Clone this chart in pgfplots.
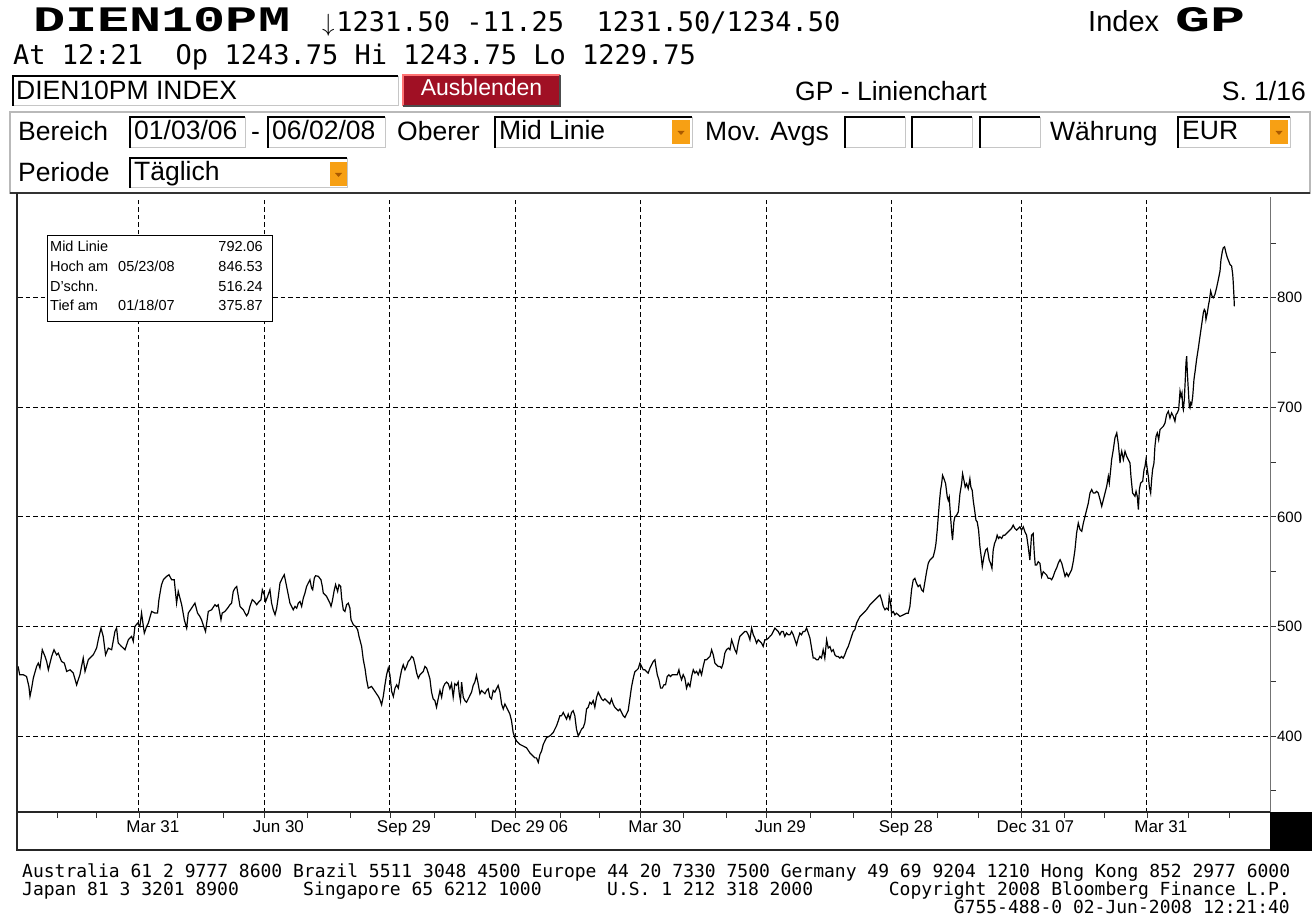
\documentclass[border=0pt]{standalone}
\usepackage{pgfplots}
\pgfplotsset{compat=1.18}
\usepackage{fontspec}
\setmainfont{Liberation Sans}
\newfontfamily\monof{DejaVu Sans Mono}
\newfontfamily\bbgf{Liberation Mono}
\definecolor{ddorange}{RGB}{247,160,20}
\definecolor{ddtri}{RGB}{170,90,0}
\definecolor{btnred}{RGB}{160,16,36}
\newcommand\uif{\fontsize{26.5}{30}\selectfont}
\newcommand\inbox[4]{\fill[white] (#1,#2) rectangle (#3,#4); \draw[gray!45,line width=1pt] (#1,#4) -- (#3,#4) -- (#3,#2); \draw[black,line width=2pt] (#1,#4) -- (#1,#2) -- (#3,#2);}
\newcommand\dd[4]{\fill[ddorange] (#1,#2) rectangle (#3,#4); \fill[ddtri] ({(#1+#3)/2-3.5},{(#2+#4)/2-1}) -- ({(#1+#3)/2+3.5},{(#2+#4)/2-1}) -- ({(#1+#3)/2},{(#2+#4)/2+3}) -- cycle;}
\begin{document}
\begin{tikzpicture}
\path[use as bounding box] (0,0) rectangle (1312pt,-917pt);
\begin{axis}[
  at={(18pt,-812pt)}, anchor=south west,
  width=1252pt, height=615pt, scale only axis,
  xmin=1.3, xmax=909.2, ymin=330.6, ymax=892,
  axis x line*=bottom, axis y line*=right,
  x axis line style={line width=1.8pt, black!85, -},
  y axis line style={line width=0.8pt, black!55, -},
  xtick={89,180,271,362,453,544,635,729,820},
  xticklabels={Mar 31,Jun 30,Sep 29,Dec 29 06,Mar 30,Jun 29,Sep 28,Dec 31 07,Mar 31},
  minor xtick={30,58,117,150,211,242,303,333,395,423,484,515,576,607,668,698,760,789,850,880},
  ytick={400,500,600,700,800},
  minor ytick={350,450,550,650,750,850},
  tick align=outside,
  major tick length=6pt, minor tick length=6pt,
  every tick/.style={black!80, line width=0.8pt},
  xmajorgrids, ymajorgrids,
  major grid style={black, line width=0.9pt, dash pattern=on 4.5pt off 3pt},
  xticklabel style={font=\fontsize{17}{17}\selectfont, anchor=north, xshift=14pt, inner sep=2pt},
  yticklabel style={font=\fontsize{15}{15}\selectfont, anchor=west, inner sep=1pt},
  /pgf/number format/assume math mode=true,
]
\addplot[black, line width=1.2pt] coordinates {
(1.4,463.5) (2.5,455.9) (5.1,455.9) (7.5,454.3) (9.2,445.2) (10.0,436.1) (11.2,443.7) (12.4,452.8) (14.8,463.5) (16.0,466.5)
(17.2,462.0) (18.9,478.7) (20.9,472.6) (22.1,468.0) (23.3,460.4) (25.7,472.6) (27.4,478.7) (29.3,474.1) (30.5,475.6) (32.9,468.0)
(34.9,466.5) (36.6,458.9) (39.0,460.4) (41.4,457.4) (43.8,446.7) (46.2,455.9) (48.6,471.1) (49.9,458.9) (52.3,469.6) (53.5,471.1)
(55.9,474.1) (58.3,480.2) (59.5,487.8) (61.5,498.5) (63.1,490.9) (64.8,474.1) (66.8,480.2) (69.2,478.7) (71.6,495.4) (72.8,498.5)
(74.0,484.8) (76.4,481.7) (78.9,478.7) (81.3,487.8) (83.7,490.9) (84.9,486.3) (86.1,500.0) (88.0,503.0) (89.7,500.0) (90.9,512.2)
(92.9,493.9) (94.6,500.0) (95.8,503.0) (98.2,513.7) (100.6,512.2) (102.5,512.2) (103.5,524.4) (104.7,533.5) (105.4,538.1) (106.7,542.6)
(109.1,545.7) (110.8,547.2) (112.7,542.6) (114.6,542.6) (116.3,521.3) (117.5,532.0) (120.0,519.8) (121.9,506.1) (123.6,498.5) (124.8,512.2)
(127.2,516.7) (129.6,521.3) (131.5,512.2) (133.2,509.1) (134.4,506.1) (135.6,501.5) (137.3,495.4) (139.3,513.7) (141.7,515.2) (144.1,519.8)
(145.3,518.3) (146.5,519.8) (148.5,506.1) (149.4,512.2)
(151.4,513.7) (153.3,516.7) (155.0,519.8) (156.2,521.3) (157.4,532.0) (158.7,535.0) (159.9,536.5) (161.1,527.4) (162.3,518.3) (163.5,516.7)
(164.7,515.2) (165.9,512.2) (167.1,509.7) (168.3,512.2) (169.5,518.3) (171.2,524.4) (172.7,522.8) (174.4,519.8) (175.6,521.9) (177.5,524.4)
(178.5,533.5) (179.9,528.9) (180.9,522.8) (182.3,527.4) (184.0,533.5) (185.2,521.3) (186.4,515.2) (187.7,510.7) (188.9,516.7) (190.1,527.4)
(191.3,539.6) (193.0,544.1) (194.4,547.2) (196.1,536.5) (197.3,528.9) (198.5,521.3) (199.7,518.3) (200.9,515.2) (202.2,518.3) (203.4,516.7)
(204.6,521.3) (205.8,522.8) (207.0,518.3) (208.2,525.9) (209.4,530.4) (210.6,536.5) (211.8,539.6) (213.0,542.6) (214.2,535.0) (215.0,533.5)
(216.2,544.1) (217.1,546.3) (219.1,545.7) (221.0,542.6) (222.0,536.5) (222.7,530.4) (223.9,528.9) (225.1,527.4) (226.3,524.4) (227.5,521.3)
(228.3,518.3) (229.2,522.8) (230.7,533.5) (231.6,538.1) (233.1,532.0) (234.1,538.1) (235.3,536.5) (236.0,525.9) (237.2,515.2) (238.4,513.7)
(239.6,519.8) (240.8,521.3) (242.0,516.7) (242.8,506.1) (244.5,501.5) (246.1,500.0) (247.6,497.0) (248.6,490.9) (250.5,481.7) (251.7,469.6)
(252.9,462.0) (254.1,451.3) (255.3,443.7) (257.7,445.2) (260.2,440.6) (262.6,436.1) (263.8,433.0) (265.0,428.5) (266.2,436.1) (267.4,446.7)
(268.6,455.9) (269.8,462.0) (271.0,455.9) (272.3,440.6) (273.5,436.1) (274.7,443.7) (275.9,446.7) (277.1,443.7) (278.3,452.8) (279.5,460.4)
(280.7,465.0) (281.9,460.4) (283.1,463.5) (284.3,468.0) (285.5,469.6) (286.8,472.6) (288.0,471.1) (289.2,465.0) (290.4,457.4) (291.6,452.8)
(292.8,455.9) (294.0,457.4) (295.2,458.9) (296.4,463.5) (297.6,462.0) (298.8,457.4)
(300.0,452.3) (301.2,440.0) (302.4,433.8) (303.6,432.3) (304.8,426.2) (306.0,433.8) (307.3,441.5) (308.5,435.4) (309.7,444.6) (310.9,447.7)
(312.1,449.2) (313.3,447.7) (314.5,443.1) (315.7,447.7) (316.9,435.4) (318.1,447.7) (319.3,446.2) (320.5,449.2) (321.3,438.5) (322.2,432.3)
(323.0,449.2) (324.2,435.4) (325.4,432.3) (326.6,430.8) (327.8,433.8) (329.0,436.9) (330.2,440.0) (331.4,446.2) (332.6,449.2) (333.8,455.4)
(335.0,447.7) (336.3,438.5) (337.5,441.5) (338.7,440.0) (339.9,438.5) (341.1,441.5) (342.3,443.1) (343.5,435.4) (344.7,433.8) (345.9,441.5)
(347.1,440.0) (348.3,443.1) (349.5,446.2) (350.8,440.0) (352.0,429.2) (353.2,424.6) (354.4,429.2) (355.6,426.2) (356.8,423.1) (358.0,420.0)
(359.2,413.8) (360.4,403.1) (361.6,398.5) (362.8,395.4) (365.3,392.3) (367.7,390.8) (370.1,389.2) (372.5,384.6) (373.7,383.1) (374.9,381.5)
(376.1,380.0) (377.3,380.0) (378.6,375.9) (379.8,383.1) (381.0,386.2) (382.2,392.3) (383.4,395.4) (384.6,398.5) (387.0,400.0) (388.2,401.5)
(389.4,403.1) (391.8,409.2) (393.1,413.8) (394.3,418.5) (395.5,418.5) (396.7,421.5) (397.9,418.5) (399.1,415.4) (400.3,420.0) (401.5,415.4)
(402.7,421.5) (403.9,423.1) (405.1,418.5) (406.3,406.2) (407.6,400.0) (408.8,403.1) (410.0,406.2) (411.2,407.7) (412.4,412.3) (413.6,424.6)
(414.8,426.2) (416.0,430.8) (417.2,429.2) (418.4,432.3) (419.6,426.2) (420.9,435.4) (422.1,440.0) (423.3,436.9) (424.5,433.8) (425.7,432.3)
(426.9,433.8) (428.1,432.3) (429.3,430.8) (430.5,429.2) (431.7,433.8) (432.9,429.2) (434.1,426.2) (435.4,424.6) (436.6,423.1) (437.8,424.6)
(439.0,421.5) (440.2,418.5) (441.4,416.9) (442.6,420.0) (443.8,423.1) (445.0,433.8) (446.2,444.6) (447.4,452.3) (448.6,458.5) (449.9,460.0)
(451.1,461.5)
(452.3,466.5) (453.5,463.5) (454.7,460.4) (455.9,460.4) (457.1,458.9) (458.3,457.4) (459.6,462.0) (460.8,465.0) (462.0,468.0) (463.2,469.6)
(463.9,463.5) (464.9,455.9) (466.1,451.3) (467.3,443.7) (468.5,443.7) (469.7,446.7) (470.9,446.7) (472.1,454.3) (473.3,455.9) (474.5,454.3)
(475.7,455.9) (476.9,455.9) (478.2,455.9) (479.4,455.9) (480.6,460.4) (481.3,455.9) (482.5,451.3) (483.7,455.9) (484.9,452.8) (486.1,443.7)
(487.3,448.2) (488.6,445.2) (489.8,454.3) (491.0,460.4) (492.2,457.4) (493.4,458.9) (494.6,455.9) (495.8,460.4) (497.0,455.9) (498.2,463.5)
(499.4,469.6) (500.6,469.6) (501.8,471.1) (503.1,472.6) (504.3,478.7) (505.5,474.1) (506.7,466.5) (507.9,465.0) (509.1,463.5) (510.3,463.5)
(511.5,462.0) (512.7,466.5) (513.9,475.6) (515.1,478.7) (516.4,480.2) (517.6,478.7) (518.8,487.8) (520.0,483.3) (521.2,478.7) (522.4,475.6)
(523.6,484.8) (524.8,490.9) (526.0,492.4) (527.2,494.0) (528.4,495.4) (529.6,495.4) (530.9,492.4) (532.1,487.8) (533.3,498.5) (534.5,492.4)
(535.7,489.3) (536.9,484.8) (538.1,487.8) (539.3,486.3) (540.5,484.8) (541.7,481.7) (542.9,487.8) (544.1,487.8) (545.4,489.3) (546.6,490.9)
(547.8,492.4) (549.0,495.4) (550.2,498.5) (551.4,497.0) (552.6,495.4) (553.8,492.4) (555.0,495.4) (556.2,495.4) (557.4,490.9) (558.6,494.0)
(559.9,492.4) (561.1,492.4) (562.3,495.4) (563.5,492.4) (564.7,487.8) (565.9,483.3) (567.1,489.3) (568.3,494.0) (569.5,492.4) (570.7,495.4)
(571.9,495.4) (573.2,498.5) (574.4,494.0) (575.6,489.3) (576.8,480.2) (578.0,471.1) (579.2,471.1) (580.4,469.6) (581.6,469.6) (582.8,472.6)
(584.0,471.1) (585.2,478.7) (586.4,471.1) (587.7,487.8) (588.9,480.2) (590.1,481.7) (591.3,477.2) (592.5,478.7) (593.7,474.1) (594.9,472.6)
(596.1,472.6) (597.3,471.1) (598.5,472.6) (599.7,471.1) (600.9,474.1) (602.2,478.7) (603.4,481.7) (604.6,486.3) (605.8,490.9) (607.0,495.4)
(608.2,497.0)
(609.4,503.0) (611.9,509.1) (614.3,512.1) (616.7,515.2) (619.1,519.7) (621.5,522.7) (623.9,525.8) (626.4,528.8) (627.6,524.3) (628.8,518.2)
(630.0,515.2) (631.2,516.7) (632.4,515.2) (633.1,527.3) (634.1,521.2) (634.8,512.1) (636.0,513.6) (637.2,510.6) (638.4,512.1) (640.9,509.1)
(643.3,510.6) (645.7,512.1) (646.9,512.1) (648.1,518.2) (649.3,533.3) (650.5,542.4) (651.7,543.9) (652.9,539.4) (654.1,536.4) (655.4,537.9)
(656.6,533.3) (657.8,531.8) (659.0,540.9) (660.2,550.0) (661.4,557.6) (662.6,560.6) (663.8,562.1) (665.0,563.6) (666.2,569.7) (667.0,575.8)
(667.9,587.9) (669.4,612.1) (670.3,624.2) (671.1,630.3) (671.8,637.9) (672.8,634.8) (674.0,630.3) (675.2,618.2) (675.9,615.2) (676.6,618.2)
(677.6,600.0) (678.3,587.9) (679.0,578.8) (680.0,595.5) (680.7,600.0) (682.0,601.5) (683.2,604.5) (684.4,621.2) (685.6,630.3) (686.3,639.4)
(687.3,633.3) (688.2,627.3) (689.2,630.3) (690.4,625.8) (691.6,634.8) (692.3,627.3) (693.3,624.2) (694.0,615.2) (695.2,604.5) (696.0,597.0)
(696.9,595.5) (697.9,587.9) (698.9,572.7) (699.8,563.6) (700.6,554.6) (701.8,563.6) (703.0,569.7) (704.2,571.2) (705.6,560.6) (706.6,557.6)
(707.6,553.0) (708.5,569.7) (709.5,575.8) (710.5,578.8) (711.4,583.3) (712.4,580.3) (713.4,581.8) (714.6,580.3) (715.8,583.3) (717.0,583.3)
(718.2,584.9) (719.4,586.4) (720.6,587.9) (721.8,589.4) (723.0,592.4) (724.2,589.4) (725.5,587.9) (726.7,589.4) (727.9,590.9) (729.1,587.9)
(730.3,590.9) (731.5,586.4) (732.7,583.3) (733.9,572.7) (735.1,560.6) (736.3,583.3) (737.5,584.9) (738.3,566.7) (739.0,556.1) (740.0,556.1)
(741.2,559.1) (742.4,557.6) (743.6,545.5) (744.8,550.0) (746.0,548.5) (747.2,547.0) (748.4,543.9)
(749.7,544.1) (750.9,542.6) (752.1,545.7) (753.3,550.2) (754.5,553.3) (755.7,557.8) (757.0,560.9) (758.2,557.8) (759.4,551.8) (760.6,545.7)
(761.8,548.7) (763.0,545.7) (764.2,548.7) (765.4,551.8) (766.6,559.4) (767.8,570.0) (769.0,585.3) (770.2,594.4) (771.5,588.3) (772.7,586.8)
(773.9,594.4) (775.1,600.5) (776.3,606.6) (777.5,612.7) (778.7,621.8) (779.9,624.9) (781.1,621.8) (782.3,621.8) (783.5,623.3) (784.7,621.8)
(786.0,615.7) (787.2,609.6) (788.4,615.7) (789.6,621.8) (790.8,627.9) (792.0,637.0) (792.7,630.9) (793.7,643.1) (794.4,652.3) (795.6,661.4)
(796.8,672.1) (798.1,676.6) (799.3,666.0) (800.5,649.2) (800.9,655.3) (801.7,659.9) (802.9,652.3) (804.1,659.9) (805.3,655.3) (806.5,652.3)
(807.7,649.2) (808.4,637.0) (809.6,621.8) (811.3,618.8) (812.1,623.3) (813.0,618.8) (813.8,606.6) (814.5,624.9) (815.4,630.9) (816.9,632.5)
(817.9,643.1) (818.6,646.2) (819.3,652.3) (820.3,643.1) (821.0,637.0) (821.7,627.9) (822.7,621.8) (823.4,634.0) (824.1,643.1) (825.1,649.2)
(825.8,664.5) (826.6,673.6) (827.5,676.6) (828.5,670.5) (829.5,679.7) (830.7,681.2) (831.9,682.7) (833.1,685.8) (834.3,693.4) (835.5,696.4)
(836.7,690.3) (837.9,694.9) (839.1,691.9) (840.3,687.3) (841.1,693.4) (842.0,694.9) (843.0,698.0) (844.0,714.7) (844.7,710.1) (845.4,713.2)
(845.9,701.0) (846.4,698.0) (847.1,707.1) (847.8,725.4) (848.3,740.6) (848.8,746.7) (849.3,731.5) (850.0,716.2) (850.7,701.0) (851.2,699.5)
(851.7,704.1) (852.4,702.5) (853.2,710.1) (854.1,725.4) (855.1,734.5) (856.0,743.6) (857.3,754.3) (858.5,765.0) (859.7,775.6) (860.9,786.3)
(861.6,789.3) (862.3,787.8) (862.8,780.2) (863.8,786.3) (864.5,792.4) (865.2,797.0) (866.2,806.1) (867.2,801.5) (868.1,800.0) (869.3,803.0)
(870.5,809.1) (871.8,816.8) (873.0,824.4) (873.7,835.0) (874.7,842.6) (875.4,845.7) (876.3,846.5) (877.3,841.1) (878.3,836.6) (879.3,833.5)
(880.2,830.5) (881.4,829.0) (882.2,821.3) (882.6,813.7) (883.1,801.5) (883.4,792.1)
};
\end{axis}
\begin{scope}[x=1pt,y=-1pt]
% header line 1 and 2
\node[anchor=base west, inner sep=0] at (33,32) {\resizebox{257pt}{24pt}{\bbgf\bfseries DIEN10PM}};
\node[anchor=base west, inner sep=0] at (320,32) {\monof\fontsize{27}{30}\selectfont\makebox[0.602em]{$\downarrow$}1231.50 -11.25\ \ 1231.50/1234.50};
\node[anchor=base west, inner sep=0] at (1088,32) {\fontsize{29}{32}\selectfont Index};
\node[anchor=base west, inner sep=0] at (1175,32) {\resizebox{70pt}{24pt}{\bbgf\bfseries GP}};
\node[anchor=base west, inner sep=0] at (13,65) {\monof\fontsize{27}{30}\selectfont At 12:21\ \ Op 1243.75 Hi 1243.75 Lo 1229.75};
% row 3
\inbox{13}{76}{398}{106}
\node[anchor=base west, inner sep=0] at (16,100) {\uif DIEN10PM INDEX};
\fill[btnred] (403,75) rectangle (560,106);
\draw[red!55!white, line width=1.2pt] (403,106) -- (403,75) -- (560,75);
\draw[black!70, line width=1.2pt] (403,106) -- (560,106) -- (560,75);
\node[anchor=base, inner sep=0, text=white] at (481.5,96) {\fontsize{23}{26}\selectfont Ausblenden};
\node[anchor=base west, inner sep=0] at (795,101) {\uif GP - Linienchart};
\node[anchor=base east, inner sep=0] at (1306,101) {\uif S. 1/16};
% panel
\draw[gray!55, line width=1.5pt] (10,112) rectangle (1310,193);
\draw[black!80, line width=1.5pt] (10,193) -- (1310,193);
% row 4
\node[anchor=base west, inner sep=0] at (18,141) {\uif Bereich};
\inbox{130}{117}{245}{148}
\node[anchor=base west, inner sep=0] at (134,140) {\uif 01/03/06};
\node[anchor=base west, inner sep=0] at (251,141) {\uif -};
\inbox{268}{117}{385}{148}
\node[anchor=base west, inner sep=0] at (272,140) {\uif 06/02/08};
\node[anchor=base west, inner sep=0] at (397,141) {\uif Oberer};
\inbox{495}{117}{692}{148}
\node[anchor=base west, inner sep=0] at (499,140) {\uif Mid Linie};
\dd{672}{120}{690}{144}
\node[anchor=base west, inner sep=0] at (705,141) {\uif Mov. Avgs};
\inbox{845}{117}{905}{148}
\inbox{912}{117}{972}{148}
\inbox{980}{117}{1040}{148}
\node[anchor=base west, inner sep=0] at (1050,141) {\uif Währung};
\inbox{1178}{117}{1290}{148}
\node[anchor=base west, inner sep=0] at (1182,140) {\uif EUR};
\dd{1270}{120}{1288}{144}
% row 5
\node[anchor=base west, inner sep=0] at (18,182) {\uif Periode};
\inbox{130}{158}{347}{188}
\node[anchor=base west, inner sep=0] at (134,181) {\uif Täglich};
\dd{330}{162}{347}{186}
% chart frame
\draw[black!85, line width=2pt] (17,193) -- (17,851);
\draw[black!85, line width=2pt] (16,850) -- (1270,850);
\fill[black] (1270,812) rectangle (1312,851);
% info box
\draw[black, line width=1pt, fill=white] (47,236) rectangle (272,322);
\begin{scope}[every node/.style={inner sep=0, font=\fontsize{14.5}{16}\selectfont}]
\node[anchor=base west] at (50,252) {Mid Linie};
\node[anchor=base east] at (263,252) {792.06};
\node[anchor=base west] at (50,272) {Hoch am};
\node[anchor=base west] at (118,272) {05/23/08};
\node[anchor=base east] at (263,272) {846.53};
\node[anchor=base west] at (50,292) {D'schn.};
\node[anchor=base east] at (263,292) {516.24};
\node[anchor=base west] at (50,311) {Tief am};
\node[anchor=base west] at (118,311) {01/18/07};
\node[anchor=base east] at (263,311) {375.87};
\end{scope}
% footer
\begin{scope}[every node/.style={inner sep=0, font=\monof\fontsize{18}{20}\selectfont}]
\node[anchor=base west] at (22,877) {\resizebox{1268pt}{!}{Australia 61 2 9777 8600 Brazil 5511 3048 4500 Europe 44 20 7330 7500 Germany 49 69 9204 1210 Hong Kong 852 2977 6000}};
\node[anchor=base west] at (22,895) {Japan 81 3 3201 8900};
\node[anchor=base west] at (303,895) {Singapore 65 6212 1000};
\node[anchor=base west] at (607,895) {U.S. 1 212 318 2000};
\node[anchor=base east] at (1290,895) {Copyright 2008 Bloomberg Finance L.P.};
\node[anchor=base east] at (1290,913) {G755-488-0 02-Jun-2008 12:21:40};
\end{scope}
\end{scope}
\end{tikzpicture}
\end{document}
